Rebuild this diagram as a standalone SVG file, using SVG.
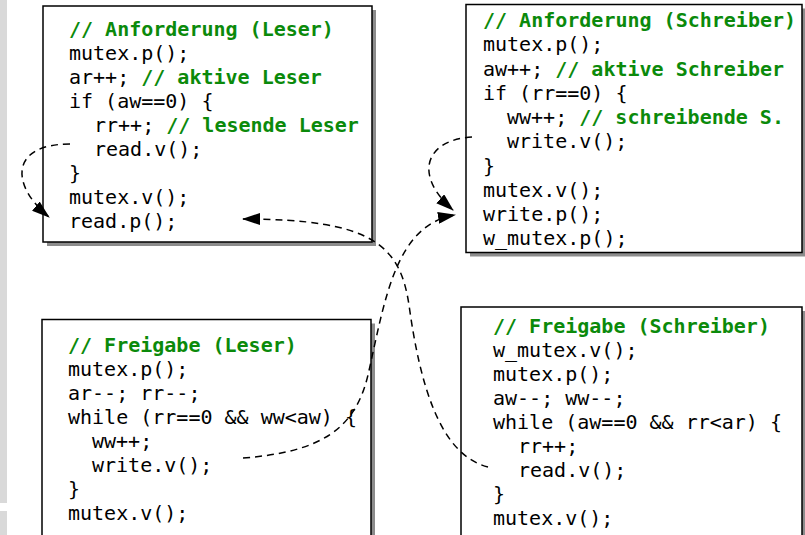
<svg xmlns="http://www.w3.org/2000/svg" width="805" height="535" viewBox="0 0 805 535">
<defs>
<style>
.box{fill:#fff;stroke:#000;stroke-width:1.5}
.shadow{fill:#8c8c8c}
text{font-family:"DejaVu Sans Mono","Liberation Mono",monospace;font-size:20px;fill:#000}
.c{fill:#0b8a0b;font-weight:bold}
.edge{fill:none;stroke:#000;stroke-width:1.5;stroke-dasharray:7 5}
</style>
<marker id="ah" viewBox="0 0 18 12" refX="17" refY="6" markerWidth="18" markerHeight="12" markerUnits="userSpaceOnUse" orient="auto">
<path d="M0,0 L18,6 L0,12 Z" fill="#000"/>
</marker>
</defs>
<rect x="0" y="0" width="805" height="535" fill="#fff"/>
<rect x="0" y="0" width="7" height="503" fill="#d9d9d9"/>
<rect x="0" y="511" width="7" height="24" fill="#d9d9d9"/>

<g id="anf-leser">
<rect class="shadow" x="47" y="10" width="329" height="236"/>
<rect class="box" x="43" y="6" width="329" height="236"/>
<text x="69" y="36" class="c">// Anforderung (Leser)</text>
<text x="69" y="60">mutex.p();</text>
<text x="69" y="84">ar++; <tspan class="c">// aktive Leser</tspan></text>
<text x="69" y="108">if (aw==0) {</text>
<text x="94" y="132">rr++; <tspan class="c">// lesende Leser</tspan></text>
<text x="94" y="156">read.v();</text>
<text x="69" y="180">}</text>
<text x="69" y="204">mutex.v();</text>
<text x="69" y="228">read.p();</text>
</g>

<g id="anf-schreiber">
<rect class="shadow" x="470" y="8.5" width="336" height="248"/>
<rect class="box" x="466" y="4.5" width="336" height="248"/>
<text x="483" y="27" class="c">// Anforderung (Schreiber)</text>
<text x="483" y="51">mutex.p();</text>
<text x="483" y="75.5">aw++; <tspan class="c">// aktive Schreiber</tspan></text>
<text x="483" y="100">if (rr==0) {</text>
<text x="507" y="124">ww++; <tspan class="c">// schreibende S.</tspan></text>
<text x="507" y="148">write.v();</text>
<text x="483" y="172.5">}</text>
<text x="483" y="197">mutex.v();</text>
<text x="483" y="221">write.p();</text>
<text x="483" y="245">w_mutex.p();</text>
</g>

<g id="frei-leser">
<rect class="shadow" x="46" y="323.5" width="329" height="230"/>
<rect class="box" x="42" y="319.5" width="329" height="230"/>
<text x="68" y="352" class="c">// Freigabe (Leser)</text>
<text x="68" y="376">mutex.p();</text>
<text x="68" y="400">ar--; rr--;</text>
<text x="68" y="424">while (rr==0 &amp;&amp; ww&lt;aw) {</text>
<text x="92" y="448">ww++;</text>
<text x="92" y="472">write.v();</text>
<text x="68" y="496">}</text>
<text x="68" y="520">mutex.v();</text>
</g>

<g id="frei-schreiber">
<rect class="shadow" x="465" y="311" width="341" height="240"/>
<rect class="box" x="461" y="307" width="341" height="240"/>
<text x="493" y="333" class="c">// Freigabe (Schreiber)</text>
<text x="493" y="357">w_mutex.v();</text>
<text x="493" y="381">mutex.p();</text>
<text x="493" y="405">aw--; ww--;</text>
<text x="493" y="429">while (aw==0 &amp;&amp; rr&lt;ar) {</text>
<text x="518" y="453">rr++;</text>
<text x="518" y="477">read.v();</text>
<text x="493" y="501">}</text>
<text x="493" y="525">mutex.v();</text>
</g>

<g id="connectors">
<path class="edge" d="M70,144 C10,144 10,185 49,217" marker-end="url(#ah)"/>
<path class="edge" d="M472,137 C425,140 413,175 453,210" marker-end="url(#ah)"/>
<path class="edge" d="M488,467 C440,455 420,385 409,305 C400,245 372,219 243,219" marker-end="url(#ah)"/>
<path class="edge" d="M243,458 C320,452 355,430 368,375 C385,300 395,225 455,215" marker-end="url(#ah)"/>
</g>
</svg>
